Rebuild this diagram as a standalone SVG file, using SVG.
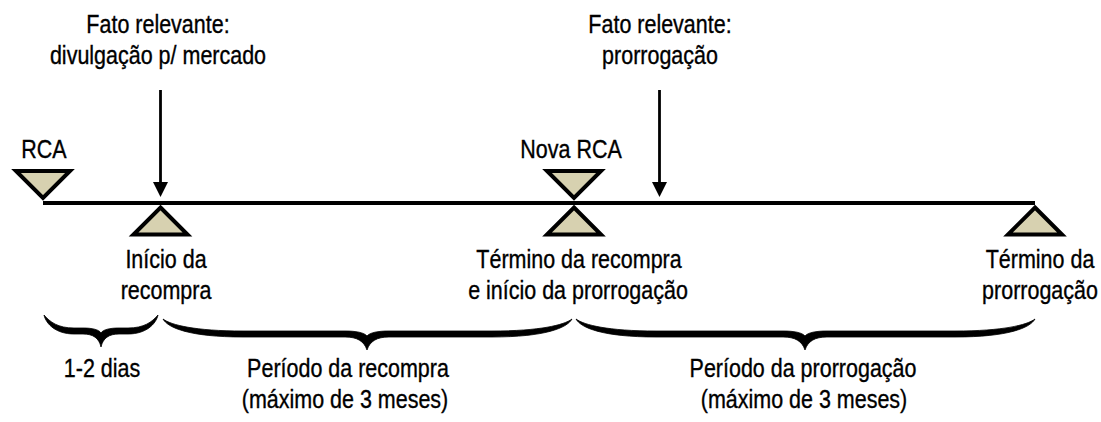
<svg xmlns="http://www.w3.org/2000/svg" width="1101" height="422" viewBox="0 0 1101 422">
<defs>
<style>
.t{font-family:"Liberation Sans",Arial,sans-serif;font-size:25px;fill:#000;stroke:#000;stroke-width:0.35;text-anchor:middle}
.tri{fill:#D7D1B0;stroke:#000;stroke-width:4;stroke-linejoin:miter}
.ln{stroke:#000;fill:none}
.br{fill:#000;stroke:#000;stroke-width:0.8}
</style>
</defs>
<rect width="1101" height="422" fill="#fff"/>
<g id="connectors">
<line class="ln" x1="43" y1="203" x2="1035" y2="203" stroke-width="4"/>
<line class="ln" x1="160.5" y1="90" x2="160.5" y2="185" stroke-width="2.8"/>
<polygon points="153,182 168,182 160.5,197" fill="#000"/>
<line class="ln" x1="659.5" y1="90" x2="659.5" y2="185" stroke-width="2.8"/>
<polygon points="652,182 667,182 659.5,197" fill="#000"/>
</g>
<g id="rca">
<path class="tri" d="M16,171 L70,171 L43,198 Z"/>
<text class="t" transform="translate(44,158) scale(0.86,1)">RCA</text>
</g>
<g id="inicio">
<path class="tri" d="M160.5,207.5 L187.5,234.5 L133.5,234.5 Z"/>
<text class="t" transform="translate(166,268) scale(0.86,1)">Início da</text>
<text class="t" transform="translate(166,299) scale(0.86,1)">recompra</text>
</g>
<g id="fato1">
<text class="t" transform="translate(158,33) scale(0.86,1)">Fato relevante:</text>
<text class="t" transform="translate(158,64) scale(0.86,1)">divulgação p/ mercado</text>
</g>
<g id="nova-rca">
<path class="tri" d="M547,171 L601,171 L574,198 Z"/>
<path class="tri" d="M574,207.5 L601,234.5 L547,234.5 Z"/>
<text class="t" transform="translate(571,158) scale(0.86,1)">Nova RCA</text>
<text class="t" transform="translate(579,268) scale(0.86,1)">Término da recompra</text>
<text class="t" transform="translate(578,299) scale(0.86,1)">e início da prorrogação</text>
</g>
<g id="fato2">
<text class="t" transform="translate(660,33) scale(0.86,1)">Fato relevante:</text>
<text class="t" transform="translate(660,64) scale(0.86,1)">prorrogação</text>
</g>
<g id="termino">
<path class="tri" d="M1035,207.5 L1062,234.5 L1008,234.5 Z"/>
<text class="t" transform="translate(1040,268) scale(0.86,1)">Término da</text>
<text class="t" transform="translate(1040,299) scale(0.86,1)">prorrogação</text>
</g>
<g id="brace1">
<path class="br" d="M44,315 C46,324 56,334 74,334 L83,334 C93,334 99,338 101,347 C103,338 109,334 119,334 L128,334 C146,334 156,324 158,315 C152,322 144,328 128,328 L119,328 C110,328 103,329.5 101,333 C99,329.5 92,328 83,328 L74,328 C58,328 50,322 44,315 Z"/>
<text class="t" transform="translate(102,377) scale(0.86,1)">1-2 dias</text>
</g>
<g id="brace2">
<path class="br" d="M163,319 C168,328 190,337 243,337 L345,337 C357,337 364,341 367,350 C370,341 377,337 389,337 L492,337 C545,337 567,328 572,319 C564,325 540,331 492,331 L389,331 C378,331 370,332.5 367,336 C364,332.5 356,331 345,331 L243,331 C195,331 171,325 163,319 Z"/>
<text class="t" transform="translate(348,377) scale(0.86,1)">Período da recompra</text>
<text class="t" transform="translate(345,408) scale(0.86,1)">(máximo de 3 meses)</text>
</g>
<g id="brace3">
<path class="br" d="M576,319 C581,328 603,337 656,337 L783,337 C795,337 802,341 805,350 C808,341 815,337 827,337 L955,337 C1008,337 1030,328 1035,319 C1027,325 1003,331 955,331 L827,331 C816,331 808,332.5 805,336 C802,332.5 794,331 783,331 L656,331 C608,331 584,325 576,319 Z"/>
<text class="t" transform="translate(803,377) scale(0.86,1)">Período da prorrogação</text>
<text class="t" transform="translate(804,408) scale(0.86,1)">(máximo de 3 meses)</text>
</g>
</svg>
